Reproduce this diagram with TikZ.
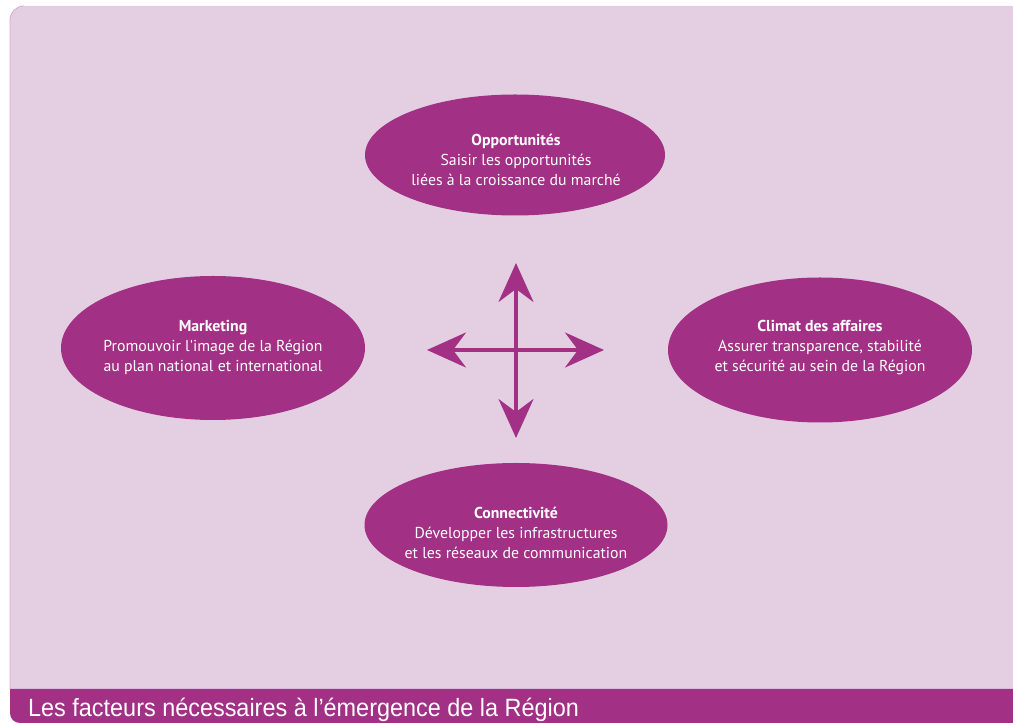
\documentclass[tikz,border=0pt]{standalone}
\usepackage{fontspec}
\usepackage{graphicx}
\usetikzlibrary{shapes.geometric,arrows.meta}
\newfontfamily\bodyfont{PT Sans}
\newfontfamily\capfont{Liberation Sans}
\definecolor{bgpink}{HTML}{E4CFE2}
\definecolor{edgepink}{HTML}{D7A9CF}
\definecolor{regmag}{HTML}{A23085}
\tikzset{
  blob/.style={ellipse, fill=regmag, draw=none, inner sep=0pt},
  blobtext/.style={text=white, align=center, font=\bodyfont\fontsize{15.8}{20}\selectfont},
  cross/.style={draw=regmag, line width=3.6pt, {Stealth[length=39pt,width=35pt,inset=13pt]}-{Stealth[length=39pt,width=35pt,inset=13pt]}},
}
\begin{document}
\begin{tikzpicture}[x=1pt,y=1pt]
\useasboundingbox (0,0) rectangle (1013,723);
% background panel
\fill[bgpink] (1013,0) -- (20,0) arc[start angle=270,end angle=180,radius=10] -- (10,703) arc[start angle=180,end angle=90,radius=14] -- (1013,717) -- cycle;
\draw[edgepink, line width=0.8pt] (10,34) -- (10,703) arc[start angle=180,end angle=90,radius=14];
% caption bar
\fill[regmag] (1013,34) -- (10,34) -- (10,10) arc[start angle=180,end angle=270,radius=10] -- (1013,0) -- cycle;
\node[anchor=base west, text=white, font=\capfont\fontsize{25}{25}\selectfont, inner sep=0pt] (cap) at (28,6) {\scalebox{0.937}[1]{Les facteurs nécessaires à l’émergence de la Région}};
% ellipses
\node[blob, minimum width=300pt, minimum height=121pt] (opp) at (515,568) {};
\node[blob, minimum width=304pt, minimum height=144pt] (mkt) at (213,375) {};
\node[blob, minimum width=304pt, minimum height=145pt] (clim) at (820,373) {};
\node[blob, minimum width=303pt, minimum height=124pt] (conn) at (516,198) {};
\node[blobtext] (topp) at (516,563) {\textbf{Opportunités}\\Saisir les opportunités\\liées à la croissance du marché};
\node[blobtext] (tmkt) at (213,376) {\textbf{Marketing}\\Promouvoir l'image de la Région\\au plan national et international};
\node[blobtext] (tclim) at (820,375) {\textbf{Climat des affaires}\\Assurer transparence, stabilité\\et sécurité au sein de la Région};
\node[blobtext] (tconn) at (516,190) {\textbf{Connectivité}\\Développer les infrastructures\\et les réseaux de communication};
% cross of arrows
\coordinate (up) at (516,460);
\coordinate (down) at (516,285);
\coordinate (left) at (427,373);
\coordinate (right) at (604,373);
\draw[cross] (down) -- (up);
\draw[cross] (left) -- (right);
\end{tikzpicture}
\end{document}
